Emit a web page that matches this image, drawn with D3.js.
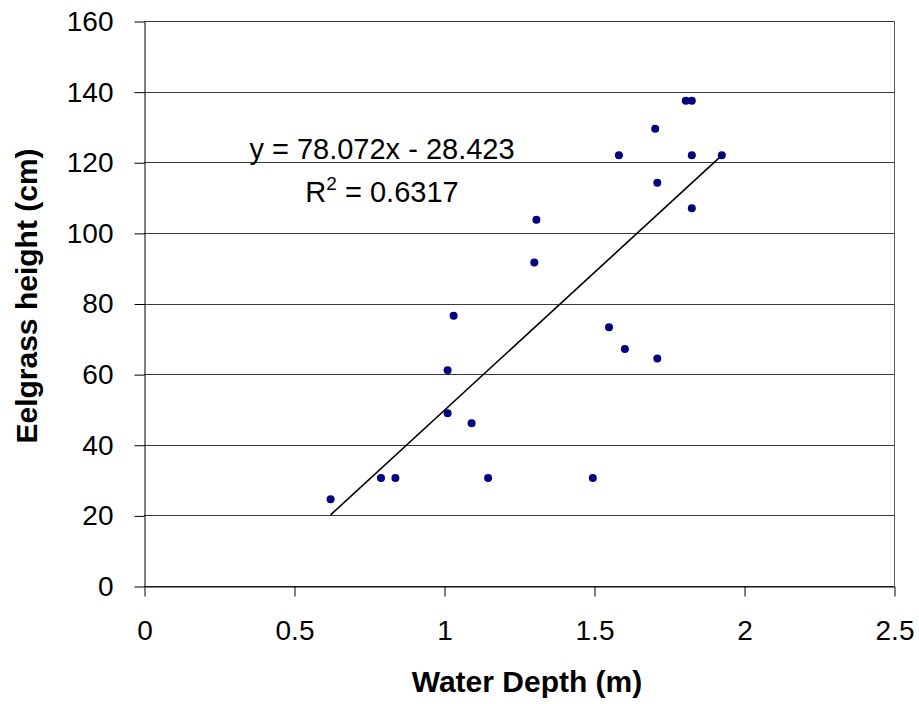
<!DOCTYPE html>
<html>
<head>
<meta charset="utf-8">
<script src="https://cdn.jsdelivr.net/npm/d3@7"></script>
<style>
  html, body { margin: 0; padding: 0; background: #fff; }
  svg { display: block; font-family: "Liberation Sans", Arial, sans-serif; }
</style>
</head>
<body>
<svg width="919" height="704"></svg>
<script>
// 측정값 (수심 m, 잘피 높이 cm)
const depth = [0.622, 0.790, 0.838, 1.147, 1.496, 1.012, 1.092, 1.012, 1.032, 1.301, 1.308,
  1.550, 1.603, 1.711, 1.583, 1.704, 1.806, 1.826, 1.826, 1.926, 1.711, 1.826];
const height = [24.6, 30.6, 30.6, 30.6, 30.6, 48.9, 46.1, 61.1, 76.5, 91.6, 103.7,
  73.3, 67.1, 64.4, 122.0, 129.5, 137.4, 137.4, 122.0, 122.0, 114.2, 107.0];

const xTicks = [0, 0.5, 1, 1.5, 2, 2.5];
const yTicks = [0, 20, 40, 60, 80, 100, 120, 140, 160];

// 추세선 계수 (그림 속 수식)
const slope = 78.072;
const intercept = -28.423;
const rSquared = "0.6317";

const svg = d3.select("svg");
// window.top 과 이름이 겹치지 않게 plot* 로 씀
const plotLeft = 144, plotRight = 894, plotTop = 21, plotBottom = 586;

const x = d3.scaleLinear().domain([0, 2.5]).range([plotLeft, plotRight]);
const y = d3.scaleLinear().domain([0, 160]).range([plotBottom, plotTop]);

// 가로 격자선
svg.append("g")
  .selectAll("line")
  .data(yTicks)
  .enter()
  .append("line")
  .attr("x1", plotLeft)
  .attr("x2", plotRight)
  .attr("y1", (d) => Math.round(y(d)) + 0.5)
  .attr("y2", (d) => Math.round(y(d)) + 0.5)
  .attr("stroke", "#3a3a3a")
  .attr("stroke-width", 1);

// 플롯 영역 테두리 (오른쪽)
svg.append("line")
  .attr("x1", plotRight + 0.5).attr("x2", plotRight + 0.5)
  .attr("y1", plotTop).attr("y2", plotBottom)
  .attr("stroke", "#5a5a5a");

// 축
const yAxis = d3.axisLeft(y).tickValues(yTicks).tickSize(10).tickSizeOuter(0).tickPadding(21);
const xAxis = d3.axisBottom(x).tickValues(xTicks).tickSize(10).tickSizeOuter(0).tickPadding(24)
  .tickFormat(d3.format("~g"));

const gy = svg.append("g").attr("transform", `translate(${plotLeft + 0.5},0.5)`).call(yAxis);
const gx = svg.append("g").attr("transform", `translate(0.5,${plotBottom + 0.5})`).call(xAxis);

[gx, gy].forEach((g) => {
  g.selectAll("path, line").attr("stroke", "#000");
  g.selectAll("text")
    .attr("fill", "#000")
    .style("font-size", "28px")
    .style("font-family", "'Liberation Sans', Arial, sans-serif");
});

// 추세선
const xMin = d3.min(depth), xMax = d3.max(depth);
svg.append("line")
  .attr("x1", x(xMin)).attr("y1", y(slope * xMin + intercept))
  .attr("x2", x(xMax)).attr("y2", y(slope * xMax + intercept))
  .attr("stroke", "#000")
  .attr("stroke-width", 1.6);

// 점
svg.append("g")
  .selectAll("circle")
  .data(depth.map((d, i) => [d, height[i]]))
  .enter()
  .append("circle")
  .attr("cx", (d) => x(d[0]))
  .attr("cy", (d) => y(d[1]))
  .attr("r", 4)
  .attr("fill", "#000080");

// 수식 라벨
svg.append("text")
  .attr("x", 382).attr("y", 159)
  .attr("text-anchor", "middle")
  .style("font-size", "29px")
  .text(`y = ${slope}x - ${Math.abs(intercept)}`);

const r2 = svg.append("text")
  .attr("x", 382).attr("y", 202)
  .attr("text-anchor", "middle")
  .style("font-size", "29px");
r2.append("tspan").text("R");
r2.append("tspan").attr("dy", -12).style("font-size", "19px").text("2");
r2.append("tspan").attr("dy", 12).text(` = ${rSquared}`);

// 축 제목
svg.append("text")
  .attr("x", 527).attr("y", 692)
  .attr("text-anchor", "middle")
  .style("font-size", "30px")
  .style("font-weight", "bold")
  .text("Water Depth (m)");

svg.append("text")
  .attr("transform", "translate(37,296) rotate(-90)")
  .attr("text-anchor", "middle")
  .style("font-size", "30px")
  .style("font-weight", "bold")
  .text("Eelgrass height (cm)");
</script>
</body>
</html>
